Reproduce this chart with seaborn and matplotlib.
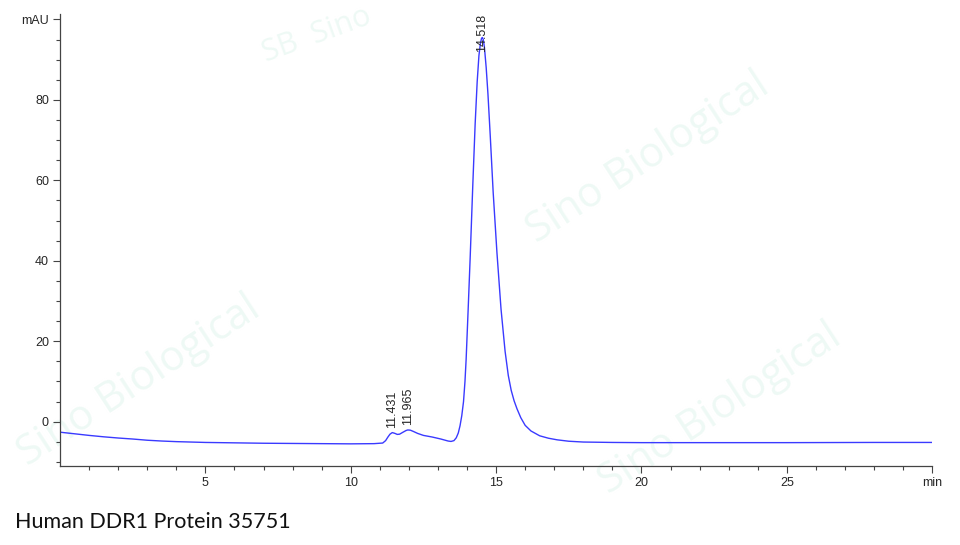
import pandas as pd
import matplotlib.pyplot as plt
import seaborn as sns

# retention time (min) and absorbance (mAU)
time_min = [0.0, 0.5, 1.0, 1.5, 2.0, 2.5, 3.0, 3.5, 4.0, 5.0, 6.0, 7.0, 8.0, 9.0,
            10.0, 10.8, 11.1, 11.2, 11.28, 11.35, 11.43, 11.52, 11.6, 11.68, 11.8,
            11.9, 11.96, 12.05, 12.15, 12.3, 12.5, 12.8, 13.1, 13.35, 13.45, 13.55,
            13.63, 13.7, 13.76, 13.82, 13.88, 13.93, 13.97, 14.04, 14.11, 14.2,
            14.28, 14.35, 14.41, 14.46, 14.5, 14.53, 14.56, 14.6, 14.66, 14.72,
            14.8, 14.9, 15.03, 15.17, 15.31, 15.42, 15.52, 15.62, 15.72, 15.85,
            16.0, 16.2, 16.5, 16.8, 17.1, 17.5, 18.0, 19.0, 20.0, 22.0, 25.0,
            28.0, 30.0]
absorb_mau = [-2.6, -3.0, -3.4, -3.75, -4.05, -4.3, -4.6, -4.8, -4.95, -5.15, -5.25,
              -5.35, -5.4, -5.45, -5.5, -5.45, -5.3, -4.7, -3.8, -3.1, -2.7, -2.9,
              -3.15, -3.1, -2.6, -2.2, -2.05, -2.1, -2.4, -2.9, -3.4, -3.8, -4.3,
              -4.8, -4.9, -4.7, -4.0, -2.8, -1.0, 1.5, 5.0, 10.0, 15.5, 28.0, 41.0,
              59.0, 74.0, 84.5, 91.0, 94.0, 95.3, 95.5, 95.0, 93.0, 88.0, 81.5,
              71.0, 57.0, 42.0, 28.0, 17.5, 11.5, 7.8, 5.2, 3.2, 1.0, -0.9, -2.3,
              -3.5, -4.1, -4.5, -4.85, -5.05, -5.15, -5.2, -5.2, -5.2, -5.15, -5.15]

peak_times = [11.431, 11.965, 14.518]
peak_labels = ["11.431", "11.965", "14.518"]
peak_label_y = [-1.6, -0.9, 92.0]

x_ticks = [5, 10, 15, 20, 25, 30]
x_ticklabels = ["5", "10", "15", "20", "25", "min"]
y_ticks = [0, 20, 40, 60, 80, 100]
y_ticklabels = ["0", "20", "40", "60", "80", "mAU"]

caption = "Human DDR1 Protein 35751"

df = pd.DataFrame({"time": time_min, "mau": absorb_mau})

sns.set_style("ticks")
plt.rcParams["font.family"] = ["Liberation Sans", "DejaVu Sans"]

fig = plt.figure(figsize=(9.6, 5.45), dpi=100)
ax = fig.add_axes([0.0625, 0.145, 0.9085, 0.829])
ax.set_zorder(2)
ax.patch.set_alpha(0)

# faint watermark behind the axes
wm = "#eef9f5"
for (wx, wy) in [(0.675, 0.71), (0.145, 0.3), (0.75, 0.25)]:
    fig.text(wx, wy, "Sino Biological", rotation=33, fontsize=30, color=wm,
             ha="center", va="center", family=["Open Sans", "DejaVu Sans"], zorder=-1)
fig.text(0.33, 0.935, "SB  Sino", rotation=20, fontsize=22, color=wm,
         ha="center", va="center", family=["Open Sans", "DejaVu Sans"], zorder=-1)

sns.lineplot(data=df, x="time", y="mau", ax=ax, color="#3a3aff", linewidth=1.0,
             sort=False, estimator=None)

for t, lab, yy in zip(peak_times, peak_labels, peak_label_y):
    ax.text(t, yy, lab, rotation=90, ha="center", va="bottom", fontsize=9)

ax.set_xlim(0, 30)
ax.set_ylim(-11, 101.3)
ax.set_xticks(x_ticks)
ax.set_xticklabels(x_ticklabels)
ax.set_yticks(y_ticks)
ax.set_yticklabels(y_ticklabels)
ax.set_xticks(range(1, 30), minor=True)
ax.set_yticks(range(-10, 101, 5), minor=True)
ax.tick_params(which="major", length=5, width=0.8, color="#444444", labelsize=9, pad=3)
ax.tick_params(which="minor", length=3, width=0.8, color="#444444")
ax.set_xlabel("")
ax.set_ylabel("")
for s in ["left", "bottom"]:
    ax.spines[s].set_color("#444444")
    ax.spines[s].set_linewidth(0.9)
sns.despine(ax=ax)

fig.text(0.016, 0.042, caption, fontsize=15.5, family=["Lato", "DejaVu Sans"],
         ha="left", va="center", color="#111111")

fig.savefig("out.png", dpi=100)
